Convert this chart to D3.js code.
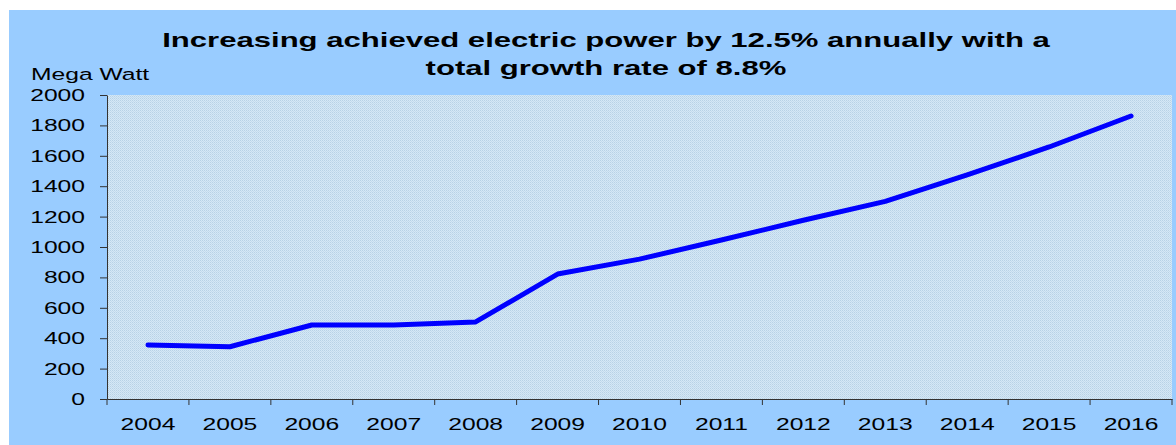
<!DOCTYPE html>
<html><head><meta charset="utf-8">
<script src="https://cdn.jsdelivr.net/npm/d3@7"></script>
<style>html,body{margin:0;padding:0;background:#fff;}svg{display:block;}</style>
</head><body>
<script>
const years = ["2004","2005","2006","2007","2008","2009","2010","2011","2012","2013","2014","2015","2016"];
const power = [355, 344, 487, 487, 507, 822, 920, 1046, 1176, 1300, 1474, 1658, 1862];
const yTicks = [0,200,400,600,800,1000,1200,1400,1600,1800,2000];
const titleLines = ["Increasing achieved electric power by 12.5% annually with a","total growth rate of 8.8%"];
const yLabel = "Mega Watt";

const W = 1176, H = 445;
const S = 1.45; // horizontal text stretch
const ST = 1.48;
const m = {left:107, right:4, top:95, bottom:46};
const svg = d3.select("body").append("svg").attr("width",W).attr("height",H);

const defs = svg.append("defs");
const pat = defs.append("pattern").attr("id","dots").attr("width",2).attr("height",2).attr("patternUnits","userSpaceOnUse");
pat.append("rect").attr("width",2).attr("height",2).attr("fill","#d4e8f6");
pat.append("rect").attr("width",1).attr("height",1).attr("fill","#b8d2e6");
pat.append("rect").attr("x",1).attr("y",1).attr("width",1).attr("height",1).attr("fill","#c4dbed");

svg.append("rect").attr("x",9).attr("y",10).attr("width",W-9).attr("height",H-10).attr("fill","#99ccff");

const x = d3.scaleBand().domain(years).range([m.left, W-m.right]);
const y = d3.scaleLinear().domain([0,2000]).range([H-m.bottom, m.top]);

svg.append("rect").attr("x",m.left).attr("y",m.top).attr("width",W-m.right-m.left).attr("height",H-m.bottom-m.top).attr("fill","url(#dots)");

const font = "Liberation Sans, Arial, sans-serif";

// y axis
const ya = svg.append("g").attr("transform",`translate(${m.left},0)`)
  .call(d3.axisLeft(y).tickValues(yTicks).tickFormat(d3.format("d")).tickSize(7).tickSizeOuter(0));
ya.select(".domain").attr("stroke","#333");
ya.selectAll(".tick line").attr("stroke","#333");
ya.selectAll("text").attr("font-family",font).attr("font-size",17).attr("fill","#000")
  .attr("x",-22/S).attr("transform",`scale(${S},1)`);

// x axis with ticks at band boundaries
const xa = svg.append("g").attr("transform",`translate(0,${H-m.bottom})`)
  .call(d3.axisBottom(x).tickSize(0).tickPadding(19).tickSizeOuter(0));
xa.select(".domain").attr("stroke","#333");
xa.selectAll("text").attr("font-family",font).attr("font-size",17).attr("fill","#000")
  .attr("transform",`scale(${S},1)`);
const bounds = years.map(d=>x(d)).concat([x(years[years.length-1])+x.bandwidth()]);
xa.selectAll(".bt").data(bounds).enter().append("line").attr("class","bt")
  .attr("x1",d=>d).attr("x2",d=>d).attr("y1",0).attr("y2",6).attr("stroke","#333");

// line
const line = d3.line().x((d,i)=>x(years[i])+x.bandwidth()/2).y(d=>y(d));
svg.append("path").datum(power).attr("d",line).attr("fill","none")
  .attr("stroke","#0000ff").attr("stroke-width",5).attr("stroke-linejoin","round").attr("stroke-linecap","round");

// title
svg.append("g").selectAll("text").data(titleLines).enter().append("text")
  .attr("x",606/ST).attr("y",(d,i)=>47+i*28).attr("text-anchor","middle").attr("transform",`scale(${ST},1)`)
  .attr("font-family",font).attr("font-weight","bold").attr("font-size",21).attr("fill","#000").text(d=>d);

svg.append("text").attr("x",31/S).attr("y",80).attr("transform",`scale(${S},1)`)
  .attr("font-family",font).attr("font-size",17).attr("fill","#000").text(yLabel);
</script>
</body></html>
